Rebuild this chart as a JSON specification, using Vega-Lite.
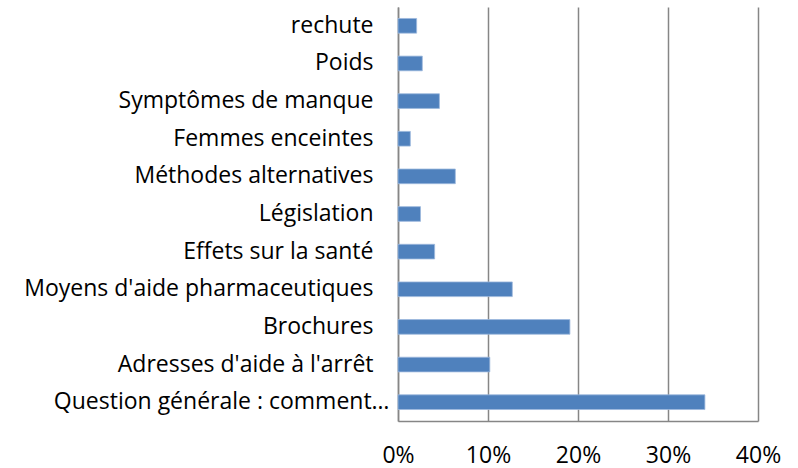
{
  "$schema": "https://vega.github.io/schema/vega-lite/v6.json",
  "autosize": "none",
  "width": 360,
  "height": 414,
  "padding": {"left": 398, "top": 7, "right": 40, "bottom": 47},
  "background": "white",
  "data": {"values": [
    {"cat": "rechute", "v": 0.0207},
    {"cat": "Poids", "v": 0.027},
    {"cat": "Symptômes de manque", "v": 0.046},
    {"cat": "Femmes enceintes", "v": 0.0137},
    {"cat": "Méthodes alternatives", "v": 0.0637},
    {"cat": "Législation", "v": 0.025},
    {"cat": "Effets sur la santé", "v": 0.0407},
    {"cat": "Moyens d'aide pharmaceutiques", "v": 0.127},
    {"cat": "Brochures", "v": 0.191},
    {"cat": "Adresses d'aide à l'arrêt", "v": 0.102},
    {"cat": "Question générale : comment…", "v": 0.341}
  ]},
  "mark": {"type": "bar", "color": "#4F81BD", "stroke": "#9DB9DD", "strokeWidth": 0.8},
  "encoding": {
    "y": {"field": "cat", "type": "nominal", "sort": null,
      "scale": {"paddingInner": 0.61, "paddingOuter": 0.305},
      "axis": {"title": null, "ticks": false, "domain": true, "domainColor": "#868686", "domainWidth": 1.5,
        "labelFont": "Open Sans", "labelFontSize": 23, "labelColor": "#000000", "labelLimit": 500,
        "labelPadding": {"condition": {"test": "indexof(datum.label, 'Question') === 0", "value": 9}, "value": 25}}},
    "x": {"field": "v", "type": "quantitative",
      "scale": {"domain": [0, 0.4], "nice": false},
      "axis": {"title": null, "format": ".0%", "values": [0, 0.1, 0.2, 0.3, 0.4], "ticks": false,
        "labelFlush": false, "labelOverlap": false,
        "domainColor": "#868686", "domainWidth": 1.5, "gridColor": "#868686", "gridWidth": 1.5,
        "labelFont": "Open Sans", "labelFontSize": 23, "labelColor": "#000000", "labelPadding": 23}}
  },
  "config": {"view": {"stroke": null}}
}
